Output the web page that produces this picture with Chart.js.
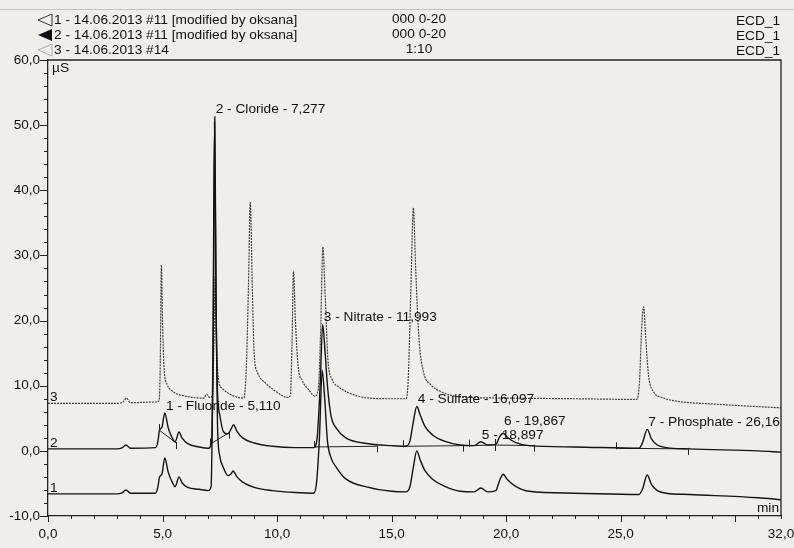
<!DOCTYPE html>
<html>
<head>
<meta charset="utf-8">
<script src="https://cdn.jsdelivr.net/npm/chart.js@4.4.1/dist/chart.umd.min.js"></script>
<style>
  html, body { margin: 0; padding: 0; background: #efeeea; }
  canvas { display: block; }
</style>
</head>
<body>
<canvas id="chromChart" width="794" height="548"></canvas>
<script>
// run 1 - 14.06.2013 #11 (lower trace, offset)
const trace1Time = [0, 3.0, 3.25, 3.4, 3.6, 4.7, 4.8, 4.87, 4.97, 5.1, 5.25, 5.45, 5.55, 5.72, 5.85, 6.1, 6.6, 7.0, 7.12, 7.2, 7.27, 7.33, 7.4, 7.5, 7.65, 7.85, 8.0, 8.08, 8.25, 8.5, 9.0, 9.8, 10.8, 11.6, 11.72, 11.85, 11.97, 12.08, 12.2, 12.35, 12.6, 13.0, 14.0, 15.0, 15.6, 15.8, 15.95, 16.1, 16.25, 16.45, 16.8, 17.3, 18.0, 18.6, 18.9, 19.2, 19.55, 19.72, 19.87, 20.05, 20.4, 21.0, 23.0, 25.8, 25.95, 26.16, 26.35, 26.6, 27.0, 28.0, 31.0, 32.0];
const trace1Value = [-6.6, -6.6, -6.4, -6.0, -6.5, -6.5, -5.5, -4.0, -3.6, -1.1, -3.3, -5.0, -5.5, -4.0, -4.9, -5.6, -5.9, -6.1, -5.5, 15, 50.5, 25, 4, -0.8, -2.5, -3.8, -3.5, -3.1, -4.0, -4.8, -5.6, -6.1, -6.4, -6.5, -5.0, 2.0, 12.4, 8.0, 1.5, -1.0, -2.6, -4.3, -5.6, -6.2, -6.3, -5.5, -2.5, 0.0, -1.4, -3.0, -4.4, -5.4, -6.2, -6.3, -5.7, -6.3, -6.1, -4.5, -3.6, -4.4, -5.4, -6.2, -6.5, -6.7, -5.9, -3.7, -5.2, -6.1, -6.5, -6.7, -7.2, -7.5];

// run 2 - 14.06.2013 #11 (integrated trace)
const trace2Time = [0, 3.0, 3.25, 3.4, 3.6, 4.7, 4.8, 4.87, 4.97, 5.1, 5.25, 5.45, 5.55, 5.72, 5.85, 6.1, 6.6, 7.0, 7.15, 7.22, 7.28, 7.34, 7.4, 7.5, 7.65, 7.85, 8.0, 8.1, 8.25, 8.5, 9.0, 9.8, 10.8, 11.6, 11.75, 11.88, 11.99, 12.1, 12.2, 12.35, 12.6, 13.0, 14.0, 15.0, 15.6, 15.8, 15.95, 16.1, 16.25, 16.45, 16.8, 17.3, 18.0, 18.6, 18.9, 19.2, 19.55, 19.72, 19.87, 20.05, 20.4, 21.0, 23.0, 25.8, 25.95, 26.16, 26.35, 26.6, 27.0, 28.0, 31.0, 32.0];
const trace2Value = [0.3, 0.3, 0.5, 0.9, 0.4, 0.5, 1.5, 3.2, 3.6, 5.8, 3.5, 1.8, 1.4, 2.9, 2.0, 1.1, 0.6, 0.4, 1.5, 20, 51.3, 22, 9, 5.5, 3.0, 2.6, 3.4, 4.0, 3.0, 2.0, 1.2, 0.7, 0.5, 0.5, 2.0, 10, 19.4, 15, 10, 5.5, 3.4, 2.0, 1.1, 0.8, 0.7, 1.5, 4.5, 6.8, 5.5, 3.8, 2.4, 1.5, 0.9, 0.8, 1.4, 0.9, 1.0, 2.2, 2.7, 2.1, 1.3, 0.8, 0.6, 0.4, 1.2, 3.3, 1.8, 0.9, 0.5, 0.3, 0.0, -0.2];

// run 3 - 14.06.2013 #14 (dotted, 1:10)
const trace3Time = [0, 3.1, 3.3, 3.42, 3.6, 4.7, 4.85, 4.9, 4.95, 5.0, 5.07, 5.2, 5.5, 6.0, 6.8, 6.93, 7.05, 7.18, 7.24, 7.3, 7.36, 7.45, 7.6, 7.9, 8.3, 8.55, 8.66, 8.75, 8.83, 8.92, 9.0, 9.15, 9.5, 10.0, 10.45, 10.58, 10.65, 10.72, 10.8, 10.92, 11.1, 11.4, 11.65, 11.8, 11.9, 12.0, 12.1, 12.22, 12.4, 12.7, 13.2, 14.0, 15.0, 15.62, 15.72, 15.85, 15.95, 16.05, 16.2, 16.4, 16.7, 17.2, 18.0, 20.0, 23.0, 25.7, 25.82, 25.92, 26.0, 26.1, 26.22, 26.45, 26.8, 27.5, 29.0, 32.0];
const trace3Value = [7.3, 7.3, 7.6, 8.1, 7.4, 7.5, 7.7, 13, 28.5, 20, 12.5, 10.2, 9.0, 8.4, 8.1, 8.7, 8.2, 8.5, 16, 26.7, 16, 10.8, 9.6, 8.8, 8.2, 8.1, 13, 25, 38.1, 25, 15, 12, 10.4, 9.0, 8.2, 8.5, 16, 27.6, 20, 13, 10.8, 9.3, 8.4, 9.5, 18, 31.3, 24, 14, 11, 9.8, 8.8, 8.1, 8.0, 8.0, 10.5, 26, 37.3, 28, 17, 12, 10.2, 9.0, 8.3, 8.1, 8.0, 7.9, 10.5, 19, 22.1, 17, 11.5, 9.0, 8.2, 7.6, 7.2, 6.6];

// peak labels of run 2
const peakLabels = ['1 - Fluoride - 5,110', '2 - Cloride - 7,277', '3 - Nitrate - 11,993', '4 - Sulfate - 16,097', '5 - 18,897', '6 - 19,867', '7 - Phosphate - 26,16'];
const peakTimes = [5.110, 7.277, 11.993, 16.097, 18.897, 19.867, 26.16];

// integration baselines of run 2 (start / end)
const intStartTime = [4.85, 7.07, 11.62, 15.5, 18.4, 19.5, 24.8];
const intStartValue = [3.2, 1.0, 0.6, 0.7, 0.8, 0.9, 0.4];
const intEndTime = [5.6, 7.9, 14.35, 18.1, 19.5, 21.2, 27.95];
const intEndValue = [1.2, 2.8, 0.7, 0.8, 0.9, 0.8, 0.3];

const xTicksLabelled = [0, 5, 10, 15, 20, 25, 32];

const FONT = '"Liberation Sans", Arial, sans-serif';
const TXT = '13.7px ' + FONT;
const fmt = v => v.toFixed(1).replace('.', ',');
const pts = (ts, vs) => ts.map((t, i) => ({ x: t, y: vs[i] }));

const intData = [];
intStartTime.forEach((t, i) => {
    intData.push({ x: t, y: intStartValue[i] });
    intData.push({ x: intEndTime[i], y: intEndValue[i] });
    intData.push({ x: intEndTime[i] + 0.001, y: null });
});

const decor = {
    id: 'decor',
    afterDraw(chart) {
        const ctx = chart.ctx;
        const xs = chart.scales.x, ys = chart.scales.y;
        const a = chart.chartArea;
        ctx.save();

        // frame top / right
        ctx.strokeStyle = '#222';
        ctx.lineWidth = 1.3;
        ctx.beginPath();
        ctx.moveTo(a.left, a.top);
        ctx.lineTo(a.right, a.top);
        ctx.lineTo(a.right, a.bottom);
        ctx.stroke();

        // faint paper line
        ctx.strokeStyle = '#c4c3bf';
        ctx.lineWidth = 1;
        ctx.beginPath();
        ctx.moveTo(0, 9.5);
        ctx.lineTo(794, 9.5);
        ctx.stroke();

        // axis ticks
        ctx.strokeStyle = '#222';
        ctx.beginPath();
        for (let t = 0; t <= 32; t++) {
            const px = Math.round(xs.getPixelForValue(t)) + 0.5;
            const len = t % 5 === 0 ? 6 : 3;
            ctx.moveTo(px, a.bottom);
            ctx.lineTo(px, a.bottom + len);
        }
        for (let v = -10; v <= 60; v += 2) {
            const py = Math.round(ys.getPixelForValue(v)) + 0.5;
            const len = v % 10 === 0 ? 8 : 4;
            ctx.moveTo(a.left - len, py);
            ctx.lineTo(a.left, py);
        }
        ctx.stroke();

        // integration marks
        ctx.lineWidth = 1;
        ctx.beginPath();
        intStartTime.forEach((t, i) => {
            const px = Math.round(xs.getPixelForValue(t)) + 0.5;
            const py = ys.getPixelForValue(intStartValue[i]);
            ctx.moveTo(px, py + 1);
            ctx.lineTo(px, py - 6);
            const qx = Math.round(xs.getPixelForValue(intEndTime[i])) + 0.5;
            const qy = ys.getPixelForValue(intEndValue[i]);
            ctx.moveTo(qx, qy - 1);
            ctx.lineTo(qx, qy + 6);
        });
        ctx.stroke();

        ctx.fillStyle = '#111';
        ctx.font = TXT;
        ctx.textBaseline = 'middle';
        ctx.textAlign = 'left';

        // peak labels
        peakLabels.forEach((lab, i) => {
            const t = peakTimes[i];
            let top = -Infinity;
            trace2Time.forEach((tt, j) => {
                if (Math.abs(tt - t) <= 0.12) top = Math.max(top, trace2Value[j]);
            });
            const lift = i === 5 ? 12 : 7;
            ctx.fillText(lab, xs.getPixelForValue(t) + 1, ys.getPixelForValue(top) - lift);
        });

        // trace numbers at start
        ctx.textBaseline = 'bottom';
        [[trace1Value[0], '1'], [trace2Value[0], '2'], [trace3Value[0], '3']].forEach(([v, s]) => {
            ctx.fillText(s, a.left + 2, ys.getPixelForValue(v) + 1);
        });

        // units
        ctx.textBaseline = 'middle';
        ctx.fillText('µS', a.left + 4, a.top + 8);
        ctx.textAlign = 'right';
        ctx.fillText('min', a.right - 2, a.bottom - 8);

        // header
        ctx.textAlign = 'left';
        const rows = [20, 35, 50];
        const names = ['1 - 14.06.2013 #11 [modified by oksana]', '2 - 14.06.2013 #11 [modified by oksana]', '3 - 14.06.2013 #14'];
        names.forEach((n, i) => ctx.fillText(n, 54, rows[i]));
        ['000 0-20', '000 0-20', '1:10'].forEach((n, i) => {
            ctx.textAlign = i === 2 ? 'center' : 'left';
            ctx.fillText(n, i === 2 ? 419 : 392, rows[i] - 1);
        });
        ctx.textAlign = 'right';
        rows.forEach(r => ctx.fillText('ECD_1', 780, r + 1));

        // legend triangles
        const tri = (y) => {
            ctx.beginPath();
            ctx.moveTo(38, y);
            ctx.lineTo(52, y - 6);
            ctx.lineTo(52, y + 6);
            ctx.closePath();
        };
        ctx.lineWidth = 1;
        tri(rows[0]); ctx.strokeStyle = '#333'; ctx.stroke();
        tri(rows[1]); ctx.fillStyle = '#111'; ctx.fill();
        tri(rows[2]); ctx.strokeStyle = '#aaa'; ctx.stroke();

        ctx.restore();
    }
};

new Chart(document.getElementById('chromChart'), {
    type: 'line',
    data: {
        datasets: [
            { label: '1', data: pts(trace1Time, trace1Value), borderColor: '#141414', borderWidth: 1.4 },
            { label: '2', data: pts(trace2Time, trace2Value), borderColor: '#141414', borderWidth: 1.4 },
            { label: 'base', data: intData, borderColor: '#222', borderWidth: 1, spanGaps: false, cubicInterpolationMode: 'default' },
            { label: '3', data: pts(trace3Time, trace3Value), borderColor: '#404040', borderWidth: 1.2, borderDash: [2, 1] }
        ]
    },
    options: {
        responsive: false,
        animation: false,
        devicePixelRatio: 1,
        layout: { padding: { top: 60, right: 13, left: 0, bottom: 0 } },
        elements: {
            point: { radius: 0 },
            line: { cubicInterpolationMode: 'monotone', fill: false }
        },
        plugins: { legend: { display: false }, tooltip: { enabled: false } },
        scales: {
            x: {
                type: 'linear', min: 0, max: 32,
                afterFit: s => { s.height = 32; s.paddingLeft = 0; s.paddingRight = 0; },
                grid: { drawOnChartArea: false, drawTicks: false },
                border: { color: '#222', width: 1.3 },
                ticks: {
                    stepSize: 1, autoSkip: false, maxRotation: 0, padding: 10,
                    color: '#111', font: { family: FONT, size: 13.5 },
                    callback: v => xTicksLabelled.includes(v) ? fmt(v) : ''
                }
            },
            y: {
                min: -10, max: 60,
                afterFit: s => { s.width = 48; s.paddingTop = 0; s.paddingBottom = 0; },
                grid: { drawOnChartArea: false, drawTicks: false },
                border: { color: '#222', width: 1.3 },
                ticks: {
                    stepSize: 2, autoSkip: false, padding: 8,
                    color: '#111', font: { family: FONT, size: 13.5 },
                    callback: v => v % 10 === 0 ? fmt(v) : ''
                }
            }
        }
    },
    plugins: [decor]
});
</script>
</body>
</html>
